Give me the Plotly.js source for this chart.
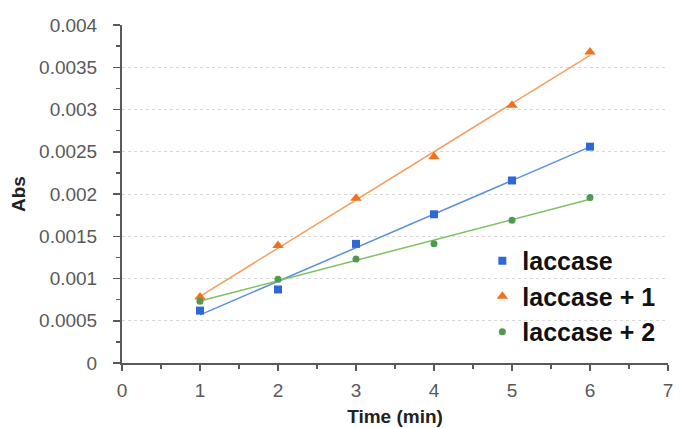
<!DOCTYPE html>
<html>
<head>
<meta charset="utf-8">
<script src="https://cdn.plot.ly/plotly-3.0.1.min.js"></script>
<style>html,body{margin:0;padding:0;background:#fff;}#chart{width:680px;height:428px;}</style>
</head>
<body>
<div id="chart"></div>
<script>
const timeMin = [1, 2, 3, 4, 5, 6];
const laccase = [0.00062, 0.00087, 0.00141, 0.00176, 0.00216, 0.00256];
const laccase1 = [0.00078, 0.00139, 0.00195, 0.00244, 0.00305, 0.00368];
const laccase2 = [0.00073, 0.00099, 0.00123, 0.00141, 0.00169, 0.00196];
const seriesNames = ['laccase', 'laccase + 1', 'laccase + 2'];
const yTickVals = [0, 0.0005, 0.001, 0.0015, 0.002, 0.0025, 0.003, 0.0035, 0.004];
const yTickText = ['0', '0.0005', '0.001', '0.0015', '0.002', '0.0025', '0.003', '0.0035', '0.004'];
const xTickVals = [0, 1, 2, 3, 4, 5, 6, 7];
const xTickText = ['0', '1', '2', '3', '4', '5', '6', '7'];

function fit(xs, ys) {
  const n = xs.length;
  const mx = xs.reduce((a, b) => a + b, 0) / n;
  const my = ys.reduce((a, b) => a + b, 0) / n;
  let sxy = 0, sxx = 0;
  for (let i = 0; i < n; i++) { sxy += (xs[i] - mx) * (ys[i] - my); sxx += (xs[i] - mx) ** 2; }
  const b = sxy / sxx, a = my - b * mx;
  const x0 = xs[0], x1 = xs[n - 1];
  return { x: [x0, x1], y: [a + b * x0, a + b * x1] };
}

const lineColors = ['#5b8ee0', '#f5a060', '#7fc060'];
const markerColors = ['#2f68d6', '#f07020', '#4f9a50'];
const symbols = ['square', 'triangle-up', 'circle'];
const sizes = [8, 10, 7];
const all = [laccase, laccase1, laccase2];

const traces = [];
all.forEach((ys, i) => {
  const f = fit(timeMin, ys);
  traces.push({ x: f.x, y: f.y, mode: 'lines', line: { color: lineColors[i], width: 1.5 }, showlegend: false, hoverinfo: 'skip' });
});
all.forEach((ys, i) => {
  traces.push({ x: timeMin, y: ys, name: seriesNames[i], mode: 'markers',
    marker: { symbol: symbols[i], size: sizes[i], color: markerColors[i] } });
});

const layout = {
  width: 680, height: 428,
  margin: { l: 122, r: 12, t: 25, b: 65 },
  paper_bgcolor: '#fff', plot_bgcolor: '#fff',
  font: { family: 'Liberation Sans, Arial, sans-serif', color: '#595959', size: 14 },
  showlegend: true,
  legend: { x: 0.66, y: 0.37, xanchor: 'left', yanchor: 'top', bgcolor: 'rgba(0,0,0,0)',
    font: { size: 25, color: '#111', family: 'Liberation Sans, Arial, sans-serif', weight: 'bold' },
    tracegroupgap: 0, itemwidth: 30 },
  xaxis: {
    range: [0, 7], tickmode: 'array', tickvals: xTickVals, ticktext: xTickText,
    showgrid: false, zeroline: false, showline: true, linecolor: '#595959', linewidth: 2,
    ticks: 'outside', ticklen: 6, tickcolor: '#595959', tickwidth: 1.5, ticklabelstandoff: 3,
    minor: { dtick: 0.5, ticks: 'outside', ticklen: 4, tickcolor: '#595959', showgrid: false },
    tickfont: { size: 19, color: '#595959' },
    title: { text: 'Time (min)', font: { size: 19, color: '#222', weight: 'bold' }, standoff: 10 }
  },
  yaxis: {
    range: [0, 0.004], tickmode: 'array', tickvals: yTickVals, ticktext: yTickText,
    showgrid: true, gridcolor: '#d8d8d8', griddash: 'dot', gridwidth: 1,
    zeroline: false, showline: true, linecolor: '#595959', linewidth: 2,
    ticks: 'outside', ticklen: 7, tickcolor: '#595959', tickwidth: 1.5, ticklabelstandoff: 12,
    minor: { dtick: 0.00025, ticks: 'outside', ticklen: 4, tickcolor: '#595959', showgrid: false },
    tickfont: { size: 19, color: '#595959' },
    title: { text: 'Abs', font: { size: 19, color: '#222', weight: 'bold' }, standoff: 8 }
  }
};

Plotly.newPlot('chart', traces, layout, { displayModeBar: false, staticPlot: true });
</script>
</body>
</html>
